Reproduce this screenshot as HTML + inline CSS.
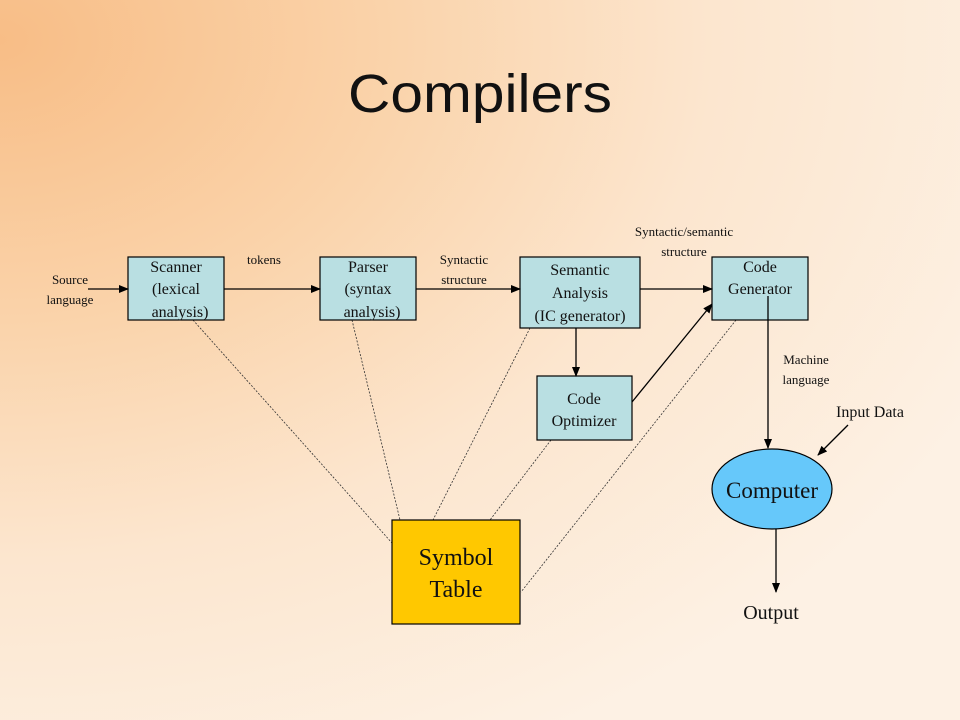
<!DOCTYPE html>
<html><head><meta charset="utf-8"><style>
html,body{margin:0;padding:0;width:960px;height:720px;overflow:hidden}
body{background:radial-gradient(ellipse 1100px 800px at 0px 40px,#f8bd86 0%,#fad3aa 35%,#fce6cf 65%,#fdf1e4 100%)}
svg{position:absolute;left:0;top:0}
text{font-family:"Liberation Serif",serif;fill:#111}
</style></head><body>
<svg width="960" height="720" viewBox="0 0 960 720">
<defs><marker id="a" markerWidth="10" markerHeight="8" refX="9" refY="4" orient="auto" markerUnits="userSpaceOnUse"><path d="M0,0 L10,4 L0,8z" fill="#000"/></marker></defs>
<text x="480" y="112" text-anchor="middle" font-size="54" textLength="264" lengthAdjust="spacingAndGlyphs" style="font-family:'Liberation Sans',sans-serif">Compilers</text>
<g stroke="#333" stroke-width="0.8" stroke-dasharray="2,1.5" fill="none">
<line x1="193" y1="320" x2="392" y2="543"/>
<line x1="352" y1="320" x2="400" y2="520"/>
<line x1="530" y1="328" x2="433" y2="520"/>
<line x1="551" y1="440" x2="490" y2="520"/>
<line x1="736" y1="320" x2="521" y2="592"/>
</g>
<g fill="#b9dfe2" stroke="#000" stroke-width="1.2">
<rect x="128" y="257" width="96" height="63"/>
<rect x="320" y="257" width="96" height="63"/>
<rect x="520" y="257" width="120" height="71"/>
<rect x="712" y="257" width="96" height="63"/>
<rect x="537" y="376" width="95" height="64"/>
</g>
<rect x="392" y="520" width="128" height="104" fill="#ffc800" stroke="#000" stroke-width="1.2"/>
<ellipse cx="772" cy="489" rx="60" ry="40" fill="#66c8fa" stroke="#000" stroke-width="1.2"/>
<g stroke="#000" stroke-width="1.3" fill="none" marker-end="url(#a)">
<line x1="88" y1="289" x2="128" y2="289"/>
<line x1="224" y1="289" x2="320" y2="289"/>
<line x1="416" y1="289" x2="520" y2="289"/>
<line x1="640" y1="289" x2="712" y2="289"/>
<line x1="576" y1="328" x2="576" y2="376"/>
<line x1="632" y1="402" x2="712" y2="304"/>
<line x1="768" y1="296" x2="768" y2="448"/>
<line x1="848" y1="425" x2="818" y2="455"/>
<line x1="776" y1="529" x2="776" y2="592"/>
</g>
<g font-size="16" text-anchor="middle">
<text x="176" y="272">Scanner</text><text x="176" y="294">(lexical</text><text x="180" y="317">analysis)</text>
<text x="368" y="272">Parser</text><text x="368" y="294">(syntax</text><text x="372" y="317">analysis)</text>
<text x="580" y="275">Semantic</text><text x="580" y="298">Analysis</text><text x="580" y="321">(IC generator)</text>
<text x="760" y="272">Code</text><text x="760" y="294">Generator</text>
<text x="584" y="404">Code</text><text x="584" y="426">Optimizer</text>
</g>
<g font-size="13" text-anchor="middle">
<text x="70" y="284">Source</text><text x="70" y="304">language</text>
<text x="264" y="264">tokens</text>
<text x="464" y="264">Syntactic</text><text x="464" y="284">structure</text>
<text x="684" y="236">Syntactic/semantic</text><text x="684" y="256">structure</text>
<text x="806" y="364">Machine</text><text x="806" y="384">language</text>
</g>
<text x="870" y="417" font-size="16" text-anchor="middle">Input Data</text>
<text x="772" y="498" font-size="23" text-anchor="middle" fill="#0a1e40">Computer</text>
<text x="771" y="619" font-size="20" text-anchor="middle">Output</text>
<text x="456" y="565" font-size="24" text-anchor="middle">Symbol</text>
<text x="456" y="597" font-size="24" text-anchor="middle">Table</text>
</svg>
</body></html>
